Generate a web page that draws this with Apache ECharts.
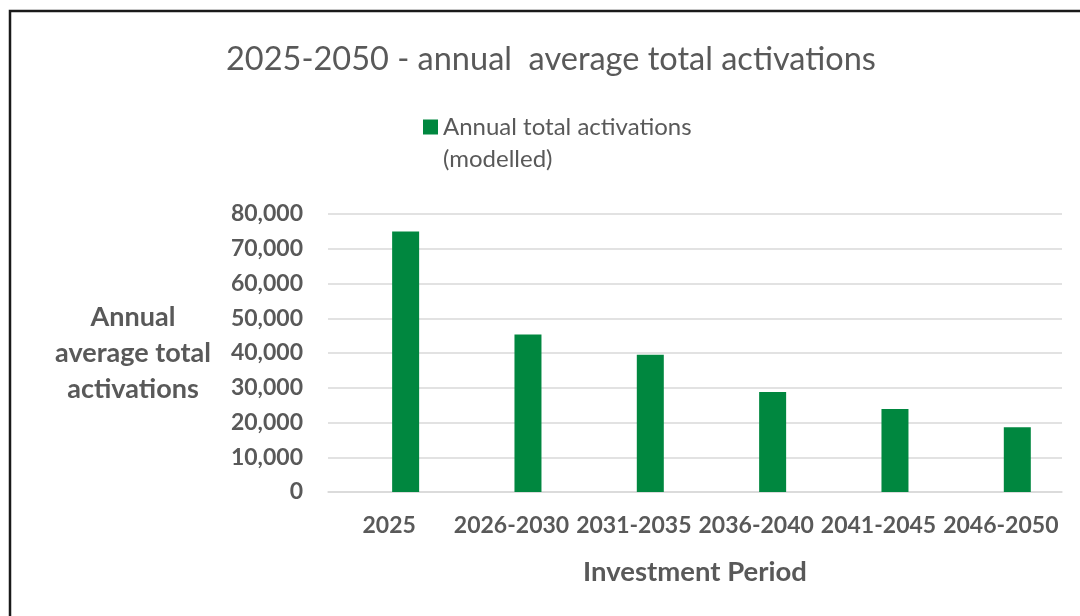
<!DOCTYPE html>
<html>
<head>
<meta charset="utf-8">
<style>
  html, body { margin: 0; padding: 0; background: #ffffff; }
  #chart { width: 1080px; height: 616px; }
</style>
<script src="https://cdn.jsdelivr.net/npm/echarts@6/dist/echarts.min.js"></script>
</head>
<body>
<div id="chart"></div>
<script>
// Investment periods on the category axis
const periods = ['2025', '2026-2030', '2031-2035', '2036-2040', '2041-2045', '2046-2050'];
// Modelled annual average total activations per period
const activations = [75000, 45300, 39500, 28800, 23900, 18600];
// Empty leading slot of the clustered column group
const reservedSlot = [null, null, null, null, null, null];
// Value-axis range
const yMin = 0;
const yMax = 80000;
const yStep = 10000;

const textGray = '#595959';
const barGreen = '#00873f';
const fontFamily = 'Lato, "Open Sans", sans-serif';

const chart = echarts.init(document.getElementById('chart'), null, { renderer: 'canvas' });

chart.setOption({
  backgroundColor: '#ffffff',
  animation: false,
  title: {
    text: '2025-2050 - annual  average total activations',
    left: 221,
    top: 38,
    textStyle: { color: textGray, fontFamily: fontFamily, fontSize: 32.5, fontWeight: 'normal' }
  },
  legend: {
    data: ['Annual total activations (modelled)'],
    left: 418,
    top: 74,
    icon: 'rect',
    itemWidth: 15,
    itemHeight: 15,
    itemGap: 6,
    // leading blank line keeps the swatch level with the first text line
    formatter: function () { return ' \nAnnual total activations\n(modelled)'; },
    textStyle: { color: textGray, fontFamily: fontFamily, fontSize: 24, lineHeight: 32 }
  },
  grid: { left: 328, right: 18, top: 214, bottom: 124, containLabel: false },
  xAxis: {
    type: 'category',
    data: periods,
    name: 'Investment Period',
    nameLocation: 'middle',
    nameGap: 66,
    nameTextStyle: { color: textGray, fontFamily: fontFamily, fontSize: 27.5, fontWeight: 'bold' },
    axisLine: { show: true, lineStyle: { color: '#d9d9d9', width: 1.5 } },
    axisTick: { show: false },
    axisLabel: { color: textGray, fontFamily: fontFamily, fontSize: 23, fontWeight: 'bold', margin: 22, interval: 0 }
  },
  yAxis: {
    type: 'value',
    min: yMin,
    max: yMax,
    interval: yStep,
    name: 'Annual\naverage total\nactivations',
    nameLocation: 'middle',
    nameRotate: 0,
    nameGap: 195,
    nameTextStyle: {
      color: textGray, fontFamily: fontFamily, fontSize: 27, fontWeight: 'bold',
      align: 'center', verticalAlign: 'middle', lineHeight: 36
    },
    axisLine: { show: false },
    axisTick: { show: false },
    splitLine: { lineStyle: { color: '#d9d9d9', width: 1.5 } },
    axisLabel: {
      color: textGray, fontFamily: fontFamily, fontSize: 23, fontWeight: 'bold', margin: 25,
      formatter: function (v) { return v.toLocaleString('en-US'); }
    }
  },
  series: [
    {
      name: 'reserved',
      type: 'bar',
      data: reservedSlot,
      barWidth: 27,
      barGap: '22%',
      itemStyle: { color: 'transparent' }
    },
    {
      name: 'Annual total activations (modelled)',
      type: 'bar',
      data: activations,
      barWidth: 27,
      barGap: '22%',
      itemStyle: { color: barGreen }
    }
  ],
  graphic: [
    {
      type: 'rect',
      silent: true,
      z: 100,
      shape: { x: 10, y: 11, width: 1200, height: 800 },
      style: { fill: 'none', stroke: '#1a1a1a', lineWidth: 2.5 }
    }
  ]
});
</script>
</body>
</html>
